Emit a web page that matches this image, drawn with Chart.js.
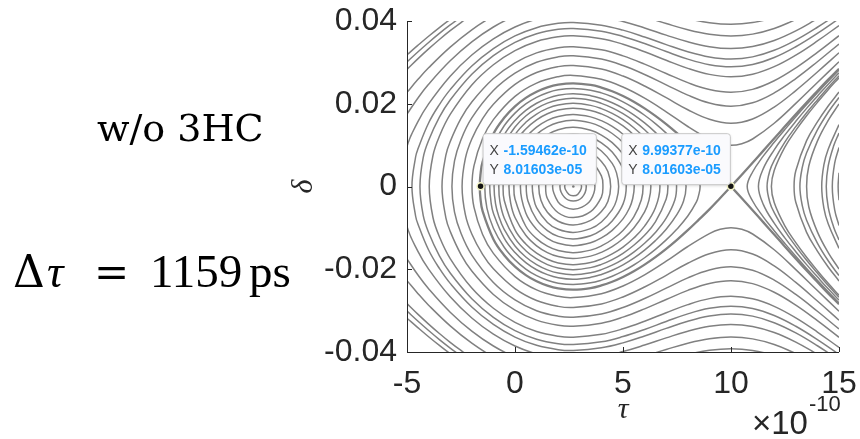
<!DOCTYPE html>
<html lang="en">
<head>
<meta charset="UTF-8">
<title>Phase space | w/o 3HC</title>
<script src="https://cdn.jsdelivr.net/npm/chart.js"></script>
<style>
  html, body { margin: 0; padding: 0; background: #fff; }
</style>
</head>
<body>
<canvas id="phase" width="860" height="439"></canvas>

<script>
// axis ticks (tau in units of 1e-10 s)
const xTicks = [-5, 0, 5, 10, 15];
const yTicks = [-0.04, -0.02, 0, 0.02, 0.04];

// the two data tips
const tipTau = [-1.59462, 9.99377];
const tipDelta = [8.01603e-5, 8.01603e-5];
const bucketCentre = [[2.7, 0]];

// closed orbits inside the bucket, upper half [tau, delta], turning point to turning point
const bucketOrbits = [
  [[2.3,0],[2.5,0.00194],[2.7,0.00223],[2.9,0.00192],[3.08,0]],
  [[2.08,0],[2.3,0.00267],[2.7,0.0035],[3.1,0.00267],[3.3,0]],
  [[1.74,0],[2,0.00378],[2.3,0.005],[2.7,0.0055],[3.1,0.005],[3.5,0.0033],[3.7,0]],
  [[1.42,0],[1.5,0.0029],[2,0.00634],[2.7,0.0075],[3.5,0.00607],[4,0.00256],[4.07,0]],
  [[1.1,0],[1.2,0.0033],[1.5,0.00622],[2,0.0084],[2.7,0.0093],[3.5,0.00819],[4,0.00607],[4.3,0.0036],[4.43,0]],
  [[0.8,0],[0.85,0.00248],[1,0.00511],[1.5,0.00868],[2,0.01035],[2.7,0.0111],[3.5,0.01019],[4,0.00857],[4.5,0.0056],[4.7,0.0033],[4.8,0]],
  [[0.52,0],[0.6,0.0035],[1,0.00801],[1.5,0.01065],[2,0.01205],[2.7,0.0127],[3.5,0.01191],[4,0.01056],[4.5,0.00833],[5,0.00426],[5.15,0]],
  [[0.25,0],[0.5,0.0064],[1,0.01036],[1.5,0.01252],[2,0.01373],[2.7,0.0143],[3.5,0.0136],[4,0.01244],[4.5,0.01061],[5,0.00783],[5.3,0.0052],[5.45,0.0029],[5.52,0]],
  [[-0.05,0],[0,0.00302],[0.5,0.00961],[1,0.01261],[1.5,0.01443],[2,0.01549],[2.7,0.016],[3.5,0.01538],[4,0.01436],[4.5,0.01281],[5,0.01062],[5.5,0.00735],[5.85,0.0032],[5.93,0]],
  [[-0.28,0],[-0.2,0.004],[0,0.00748],[0.5,0.0118],[1,0.01434],[1.5,0.01597],[2,0.01693],[2.7,0.0174],[3.5,0.01683],[4,0.01591],[4.5,0.01452],[5,0.01263],[5.5,0.01004],[6,0.00612],[6.2,0.00336],[6.29,0]],
  [[-0.55,0],[-0.5,0.00332],[0,0.0105],[0.5,0.01391],[1,0.01613],[1.5,0.01759],[2,0.01847],[2.7,0.0189],[3.5,0.01838],[4,0.01754],[4.5,0.01629],[5,0.01463],[5.5,0.01246],[6,0.00958],[6.5,0.00516],[6.71,0]],
  [[-0.75,0],[-0.7,0.00367],[-0.5,0.00761],[0,0.01254],[0.5,0.01551],[1,0.01752],[1.5,0.01887],[2,0.0197],[2.7,0.0201],[3.5,0.01961],[4,0.01882],[4.5,0.01767],[5,0.01615],[5.5,0.01421],[6,0.01178],[6.5,0.00857],[7,0.00302],[7.08,0]],
  [[-0.97,0],[-0.9,0.00422],[-0.75,0.00722],[-0.5,0.01037],[0,0.01438],[0.5,0.01703],[1,0.01888],[1.5,0.02015],[2,0.02092],[2.7,0.0213],[3.5,0.02084],[4,0.0201],[4.5,0.01902],[5,0.01762],[5.5,0.01586],[6,0.01372],[6.5,0.0111],[7,0.00767],[7.4,0.00328],[7.48,0]],
  [[-1.17,0],[-1.1,0.00413],[-1,0.00646],[-0.5,0.01247],[0,0.01597],[0.5,0.01839],[1,0.02012],[1.5,0.0213],[2,0.02204],[2.7,0.0224],[3.5,0.02196],[4,0.02126],[4.5,0.02025],[5,0.01894],[5.5,0.01731],[6,0.01537],[6.5,0.01308],[7,0.01034],[7.5,0.00676],[7.8,0.00359],[7.92,0]],
  [[-1.4,0],[-1.3,0.00524],[-1,0.01008],[-0.5,0.01468],[0,0.01774],[0.5,0.01995],[1,0.02155],[1.5,0.02267],[2,0.02336],[2.7,0.0237],[3.5,0.02329],[4,0.02263],[4.5,0.02168],[5,0.02046],[5.5,0.01897],[6,0.01722],[6.5,0.0152],[7,0.01291],[7.5,0.01028],[8,0.00713],[8.4,0.00373],[8.5,0.00216],[8.57,0]]
];

// separatrix: left lobe ends on the saddle, right branch starts there
const separatrixLeft = [[-1.63,0],[-1.6,0.00284],[-1.5,0.00595],[-1,0.01273],[-0.5,0.01661],[0,0.01937],[0.5,0.02141],[1,0.02291],[1.5,0.02396],[2,0.02462],[2.7,0.02494],[3.5,0.02455],[4,0.02392],[4.5,0.02303],[5,0.02188],[5.5,0.0205],[6,0.01889],[6.5,0.01707],[7,0.01507],[7.5,0.01289],[8,0.01055],[8.5,0.00807],[9,0.00553],[9.5,0.00278],[10,0]];
const separatrixRight = [[10,0],[10.5,0.00284],[11,0.00574],[11.5,0.00867],[12,0.01161],[12.5,0.01454],[13,0.01744],[13.5,0.02031],[14,0.02309],[14.5,0.02584],[15,0.02846]];

// orbits outside the bucket that turn round on the left
const outerOrbits = [
  [[-1.99,0],[-1.9,0.00498],[-1.5,0.01159],[-1,0.01616],[0,0.02177],[1,0.02498],[2,0.02655],[2.7,0.02685],[4,0.02591],[5,0.02404],[6,0.02135],[7,0.01806],[8,0.0145],[9,0.01138],[9.5,0.01033],[10,0.00995],[10.5,0.01034],[11,0.01148],[12,0.01529],[13,0.02008],[14,0.02514],[15,0.03015]],
  [[-2.45,0],[-2.3,0.00673],[-2,0.01148],[-1.5,0.0164],[-1,0.01989],[0,0.02467],[1,0.02754],[2,0.02897],[2.7,0.02925],[4,0.02839],[5,0.02669],[6,0.02429],[7,0.02146],[8,0.01856],[9,0.01625],[10,0.01528],[11,0.01632],[12,0.01919],[13,0.02318],[14,0.02768],[15,0.0323]],
  [[-2.92,0],[-2.8,0.00618],[-2.5,0.01132],[-2,0.01658],[-1,0.0232],[0,0.02741],[1,0.03002],[2,0.03134],[2.7,0.0316],[4,0.0308],[5,0.02924],[6,0.02707],[7,0.02457],[8,0.02208],[9,0.02017],[10,0.0194],[11,0.02023],[12,0.02261],[13,0.02608],[14,0.03015],[15,0.03445]],
  [[-3.38,0],[-3.2,0.00757],[-3,0.01085],[-2.5,0.01644],[-2,0.02042],[-1,0.02609],[0,0.0299],[1,0.0323],[2,0.03354],[2.7,0.03377],[4,0.03303],[5,0.03158],[6,0.02958],[7,0.02731],[8,0.0251],[9,0.02343],[10,0.02277],[11,0.02348],[12,0.02556],[13,0.02868],[14,0.03243],[15,0.03645]],
  [[-3.97,0],[-3.8,0.00743],[-3.5,0.01214],[-3,0.01741],[-2,0.02454],[-1,0.02943],[0,0.03285],[1,0.03506],[2,0.03619],[2.7,0.03641],[4,0.03572],[5,0.03439],[6,0.03257],[7,0.03051],[8,0.02855],[9,0.0271],[10,0.02653],[11,0.02715],[12,0.02896],[13,0.03175],[14,0.03517],[15,0.03891]],
  [[-4.4,0],[-4.25,0.00699],[-4,0.01112],[-3.5,0.01675],[-3,0.02089],[-2,0.02712],[-1,0.03161],[0,0.03482],[1,0.0369],[2,0.03799],[2.7,0.0382],[4,0.03754],[5,0.03627],[6,0.03455],[7,0.03262],[8,0.03079],[9,0.02945],[10,0.02893],[11,0.02949],[12,0.03117],[13,0.03378],[14,0.03701],[15,0.04058]],
  [[-4.77,0],[-4.6,0.00719],[-4.5,0.00898],[-4,0.01535],[-3.5,0.0198],[-3,0.02341],[-2,0.02911],[-1,0.03333],[0,0.03639],[1,0.03839],[2,0.03943],[2.7,0.03963],[4,0.039],[5,0.03779],[6,0.03613],[7,0.03429],[8,0.03256],[9,0.03129],[10,0.0308],[11,0.03133],[12,0.03292],[13,0.03539],[14,0.03849],[15,0.04194]],
  [[-5.3,0],[-5,0.00965],[-4.5,0.0156],[-4,0.01996],[-3,0.02666],[-2,0.03178],[-1,0.03569],[0,0.03856],[1,0.04045],[2,0.04144],[2.7,0.04163],[4,0.04104],[5,0.03988],[6,0.03832],[7,0.03659],[8,0.03497],[9,0.03379],[10,0.03334],[11,0.03383],[12,0.0353],[13,0.03762],[14,0.04055]]
];

// orbits whose turning point is off the left edge
const openOrbits = [
  [[-5,0.01748],[-4.5,0.02134],[-4,0.02471],[-3,0.03038],[-2,0.03496],[-1,0.03855],[0,0.04122],[1,0.043],[2,0.04393],[2.7,0.04411],[4,0.04354],[5,0.04246],[6,0.04099],[7,0.03938],[8,0.03788],[9,0.0368],[10,0.03638],[11,0.03683],[12,0.03819],[13,0.04035]],
  [[-5,0.02275],[-4.5,0.02584],[-4,0.02869],[-3,0.03369],[-2,0.03788],[-1,0.04121],[0,0.04372],[1,0.0454],[2,0.04628],[2.7,0.04645],[4,0.04592],[5,0.04489],[6,0.04351],[7,0.04199],[8,0.04059],[9,0.03958],[10,0.03919],[11,0.03961],[12,0.04088],[13,0.0429]],
  [[-5,0.0283],[-4.5,0.03084],[-4,0.03325],[-3.5,0.03553],[-3,0.03766],[-2.5,0.03963],[-2,0.04144],[-1,0.04451]],
  [[-5,0.03011],[-4.5,0.03251],[-4,0.03481],[-3.5,0.037],[-3,0.03904],[-2.5,0.04095],[-2,0.0427]],
  [[-5,0.03183],[-4.5,0.0341],[-4,0.03631],[-3.5,0.0384],[-3,0.04038],[-2.5,0.042]]
];

// orbits right of the saddle, turning point first
const rightOrbits = [
  [[10.75,0],[11,0.00351],[11.5,0.00739],[12,0.01068],[12.5,0.01381],[13,0.01684],[13.5,0.01979],[14,0.02264],[14.5,0.02544],[15,0.0281]],
  [[11.27,0],[11.5,0.00438],[12,0.00887],[12.5,0.01247],[13,0.01575],[13.5,0.01888],[14,0.02184],[14.5,0.02474],[15,0.02746]],
  [[11.67,0],[11.8,0.00385],[12,0.00631],[12.5,0.0108],[13,0.01446],[13.5,0.01782],[14,0.02093],[14.5,0.02394],[15,0.02674]],
  [[11.87,0],[12,0.00388],[12.5,0.00958],[13,0.01358],[13.5,0.01711],[14,0.02033],[14.5,0.02341],[15,0.02628]],
  [[12.92,0],[13,0.00382],[13.5,0.01108],[14,0.0156],[14.5,0.01945],[15,0.02282]],
  [[13.19,0],[13.3,0.00461],[13.5,0.00814],[14,0.01367],[14.5,0.01794],[15,0.02154]],
  [[13.5,0],[13.6,0.0049],[14,0.01097],[14.5,0.01598],[15,0.01994]],
  [[14.2,0],[14.3,0.00522],[14.5,0.00901],[15,0.01495]],
  [[14.41,0],[14.5,0.00496],[14.75,0.00978],[15,0.01292]],
  [[14.69,0],[14.8,0.00567],[15,0.00943]],
  [[14.96,0],[15,0.00334]]
];

const GREY = '#808080';
const INK = '#262626';
const xy = p => ({x: p[0], y: p[1]});
const flip = p => ({x: p[0], y: -p[1]});

function lineSet(points, width, hideEnds) {
    const n = points.length;
    const ds = {
        data: points,
        showLine: true,
        pointRadius: 0,
        borderColor: GREY,
        borderWidth: width || 1.5,
        tension: 0.4,
        capBezierPoints: false,
        fill: false
    };
    if (hideEnds) {
        // first and last segments only close the spline, do not draw them
        ds.segment = {
            borderColor: c => (c.p0DataIndex === 0 || c.p1DataIndex === n - 1) ? 'rgba(0,0,0,0)' : undefined
        };
    }
    return ds;
}

// closed orbit: upper half, mirrored lower half, wrapped so the spline closes smoothly
function loop(pts, w) {
    const ring = pts.map(xy).concat(pts.slice(1, -1).reverse().map(flip));
    const path = [ring[ring.length - 1]].concat(ring, [ring[0], ring[1]]);
    return [lineSet(path, w, true)];
}

// lower half back to the turning point, then the upper half
function fold(pts, w) {
    const path = pts.slice().reverse().map(flip).concat(pts.slice(1).map(xy));
    return [lineSet(path, w)];
}

function split(pts, w) {
    return [lineSet(pts.map(xy), w), lineSet(pts.map(flip), w)];
}

const datasets = [
    {
        data: tipTau.map((t, i) => ({x: t, y: tipDelta[i]})),
        pointRadius: 3.5,
        pointBackgroundColor: '#151515',
        pointBorderColor: '#f6f6c8',
        pointBorderWidth: 1.5,
        showLine: false
    },
    {
        data: bucketCentre.map(xy),
        pointRadius: 1.3,
        pointBackgroundColor: GREY,
        pointBorderWidth: 0,
        showLine: false
    }
];
bucketOrbits.forEach(o => datasets.push(...loop(o)));
datasets.push(...fold(separatrixLeft, 2.3));
datasets.push(...split(separatrixRight, 2.3));
outerOrbits.forEach(o => datasets.push(...fold(o)));
openOrbits.forEach(o => datasets.push(...split(o)));
rightOrbits.forEach(o => datasets.push(...fold(o)));

function sci(v) {
    const [m, e] = v.toExponential(5).split('e');
    return m + 'e' + e[0] + e.slice(1).padStart(2, '0');
}

const SANS = '"Liberation Sans", Arial, sans-serif';

// axes with inward ticks, tick labels, data tips and the side text
const overlay = {
    id: 'overlay',
    afterDraw(chart) {
        const {ctx, chartArea: a, scales: {x, y}} = chart;
        ctx.save();

        ctx.strokeStyle = INK;
        ctx.lineWidth = 1;
        ctx.beginPath();
        ctx.moveTo(a.left + 0.5, a.top);
        ctx.lineTo(a.left + 0.5, a.bottom + 0.5);
        ctx.lineTo(a.right, a.bottom + 0.5);
        yTicks.forEach(v => {
            const py = Math.round(y.getPixelForValue(v)) + 0.5;
            ctx.moveTo(a.left, py);
            ctx.lineTo(a.left + 5, py);
        });
        xTicks.forEach(v => {
            const px = Math.round(x.getPixelForValue(v)) + 0.5;
            ctx.moveTo(px, a.bottom);
            ctx.lineTo(px, a.bottom - 5);
        });
        ctx.stroke();

        // tick labels
        ctx.fillStyle = INK;
        ctx.font = '32px ' + SANS;
        ctx.textBaseline = 'middle';
        ctx.textAlign = 'right';
        yTicks.forEach(v => ctx.fillText(String(v), a.left - 10, y.getPixelForValue(v)));
        ctx.textAlign = 'center';
        xTicks.forEach(v => ctx.fillText(String(v), x.getPixelForValue(v), a.bottom + 32));

        // data tips
        tipTau.forEach((t, i) => {
            const px = x.getPixelForValue(t);
            const py = y.getPixelForValue(tipDelta[i]);
            const xs = sci(t * 1e-10);
            const ys = sci(tipDelta[i]);
            ctx.font = 'bold 14px ' + SANS;
            const valW = Math.max(ctx.measureText(xs).width, ctx.measureText(ys).width);
            const w = valW + 30;
            const h = 51;
            const left = i === 0 ? px + 2 : px - 1 - w;
            const top = py - 2 - h;

            ctx.save();
            ctx.shadowColor = 'rgba(0,0,0,0.18)';
            ctx.shadowBlur = 3;
            ctx.shadowOffsetY = 1;
            ctx.fillStyle = '#fafafd';
            ctx.beginPath();
            ctx.roundRect(left + 0.5, top + 0.5, w, h, 3);
            ctx.fill();
            ctx.restore();
            ctx.strokeStyle = '#c9c9c9';
            ctx.beginPath();
            ctx.roundRect(left + 0.5, top + 0.5, w, h, 3);
            ctx.stroke();

            ctx.textBaseline = 'middle';
            ctx.textAlign = 'left';
            ctx.font = '14px ' + SANS;
            ctx.fillStyle = '#444';
            ctx.fillText('X', left + 7, top + 18);
            ctx.fillText('Y', left + 7, top + 37);
            ctx.font = 'bold 14px ' + SANS;
            ctx.fillStyle = '#1a9cff';
            ctx.fillText(xs, left + 21, top + 18);
            ctx.fillText(ys, left + 21, top + 37);
        });

        // axis titles and exponent
        ctx.fillStyle = INK;
        ctx.textAlign = 'center';
        ctx.textBaseline = 'middle';
        ctx.font = 'italic 30px "Liberation Serif", serif';
        ctx.fillText('τ', x.getPixelForValue(5), 410);
        ctx.save();
        ctx.translate(304, y.getPixelForValue(0));
        ctx.rotate(-Math.PI / 2);
        ctx.fillText('δ', 0, 0);
        ctx.restore();

        ctx.textAlign = 'left';
        ctx.textBaseline = 'alphabetic';
        ctx.font = '33px ' + SANS;
        ctx.fillText('×10', 752, 434);
        ctx.font = '22px ' + SANS;
        ctx.fillText('-10', 809, 411);

        // side notes
        ctx.fillStyle = '#000';
        ctx.font = '38px "DejaVu Serif", serif';
        ctx.fillText('w/o 3HC', 97, 141);
        ctx.font = '44px "DejaVu Serif", serif';
        ctx.fillText('Δ', 13, 287);
        ctx.font = '42px "DejaVu Serif", serif';
        ctx.fillText('=', 94, 287);
        ctx.font = 'italic 46px "Liberation Serif", serif';
        ctx.fillText('τ', 47, 287);
        ctx.font = '47px "Liberation Serif", serif';
        ctx.fillText('1159', 150, 287);
        ctx.fillText('ps', 249, 287);

        ctx.restore();
    }
};

new Chart(document.getElementById('phase'), {
    type: 'scatter',
    data: { datasets },
    options: {
        responsive: false,
        animation: false,
        devicePixelRatio: 1,
        events: [],
        layout: { padding: { top: 21, right: 21, bottom: 0, left: 0 } },
        plugins: { legend: { display: false }, tooltip: { enabled: false } },
        scales: {
            x: {
                type: 'linear',
                min: -5,
                max: 15,
                grid: { display: false, drawTicks: false },
                border: { display: false },
                afterBuildTicks: s => { s.ticks = xTicks.map(v => ({value: v})); },
                afterFit: s => { s.height = 87; },
                ticks: { display: false }
            },
            y: {
                type: 'linear',
                min: -0.04,
                max: 0.04,
                grid: { display: false, drawTicks: false },
                border: { display: false },
                afterBuildTicks: s => { s.ticks = yTicks.map(v => ({value: v})); },
                afterFit: s => { s.width = 407; },
                ticks: { display: false }
            }
        }
    },
    plugins: [overlay]
});
</script>
</body>
</html>
